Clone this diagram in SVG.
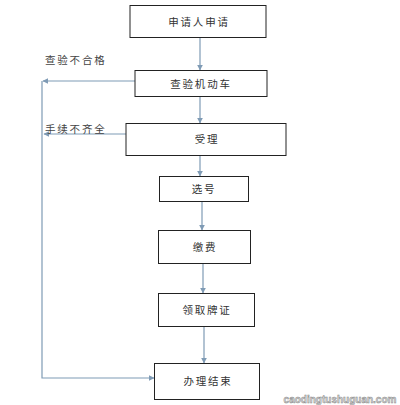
<svg xmlns="http://www.w3.org/2000/svg" width="400" height="405" viewBox="0 0 400 405">
<style>
.box{fill:#fff;stroke:#222;stroke-width:1}
.t{font-family:"Noto Sans CJK SC","Liberation Sans",sans-serif;font-size:10.5px;fill:#333;letter-spacing:1.8px;text-anchor:middle}
.lbl{font-family:"Noto Sans CJK SC","Liberation Sans",sans-serif;font-size:10.5px;fill:#444;letter-spacing:1.8px}
.c{fill:none;stroke:#7f9bb5;stroke-width:1.2}
</style>
<defs>
<marker id="ah" viewBox="0 0 10 10" refX="9" refY="5" markerWidth="6" markerHeight="6" orient="auto" markerUnits="userSpaceOnUse">
<path d="M0,0 L10,5 L0,10 z" fill="#7f9bb5"/>
</marker>
</defs>
<rect width="400" height="405" fill="#fff"/>
<g id="connectors">
<line class="c" x1="200" y1="37" x2="200" y2="70" marker-end="url(#ah)"/>
<line class="c" x1="200" y1="96" x2="200" y2="123" marker-end="url(#ah)"/>
<line class="c" x1="200" y1="155" x2="200" y2="176" marker-end="url(#ah)"/>
<line class="c" x1="202" y1="201" x2="202" y2="230" marker-end="url(#ah)"/>
<line class="c" x1="203" y1="263" x2="203" y2="293" marker-end="url(#ah)"/>
<line class="c" x1="204" y1="326" x2="204" y2="363" marker-end="url(#ah)"/>
<line class="c" x1="135" y1="81" x2="43" y2="81" marker-end="url(#ah)"/>
<line class="c" x1="126" y1="134" x2="44" y2="134" marker-end="url(#ah)"/>
<polyline class="c" points="42,81 42,378 154,378" marker-end="url(#ah)"/>
</g>
<g id="label1"><text class="lbl" x="45" y="64">查验不合格</text></g>
<g id="label2"><text class="lbl" x="45" y="133">手续不齐全</text></g>
<g id="n1"><rect class="box" x="130" y="5.5" width="136" height="32"/><text class="t" x="199" y="26">申请人申请</text></g>
<g id="n2"><rect class="box" x="135" y="70.5" width="132" height="26"/><text class="t" x="201" y="88">查验机动车</text></g>
<g id="n3"><rect class="box" x="126" y="123.5" width="160" height="32"/><text class="t" x="207" y="143">受理</text></g>
<g id="n4"><rect class="box" x="159.5" y="176.5" width="89" height="25"/><text class="t" x="204" y="193">选号</text></g>
<g id="n5"><rect class="box" x="158.5" y="230.5" width="92" height="33"/><text class="t" x="205" y="251">缴费</text></g>
<g id="n6"><rect class="box" x="158.5" y="293.5" width="96" height="33"/><text class="t" x="207" y="314">领取牌证</text></g>
<g id="n7"><rect class="box" x="154.5" y="363.5" width="105" height="36"/><text class="t" x="208" y="385">办理结束</text></g>
<text x="340" y="403" font-family="Liberation Sans,sans-serif" font-size="10" font-weight="bold" fill="#ddd" stroke="#888" stroke-width="0.5" text-anchor="middle">caodingtushuguan.com</text>
</svg>
